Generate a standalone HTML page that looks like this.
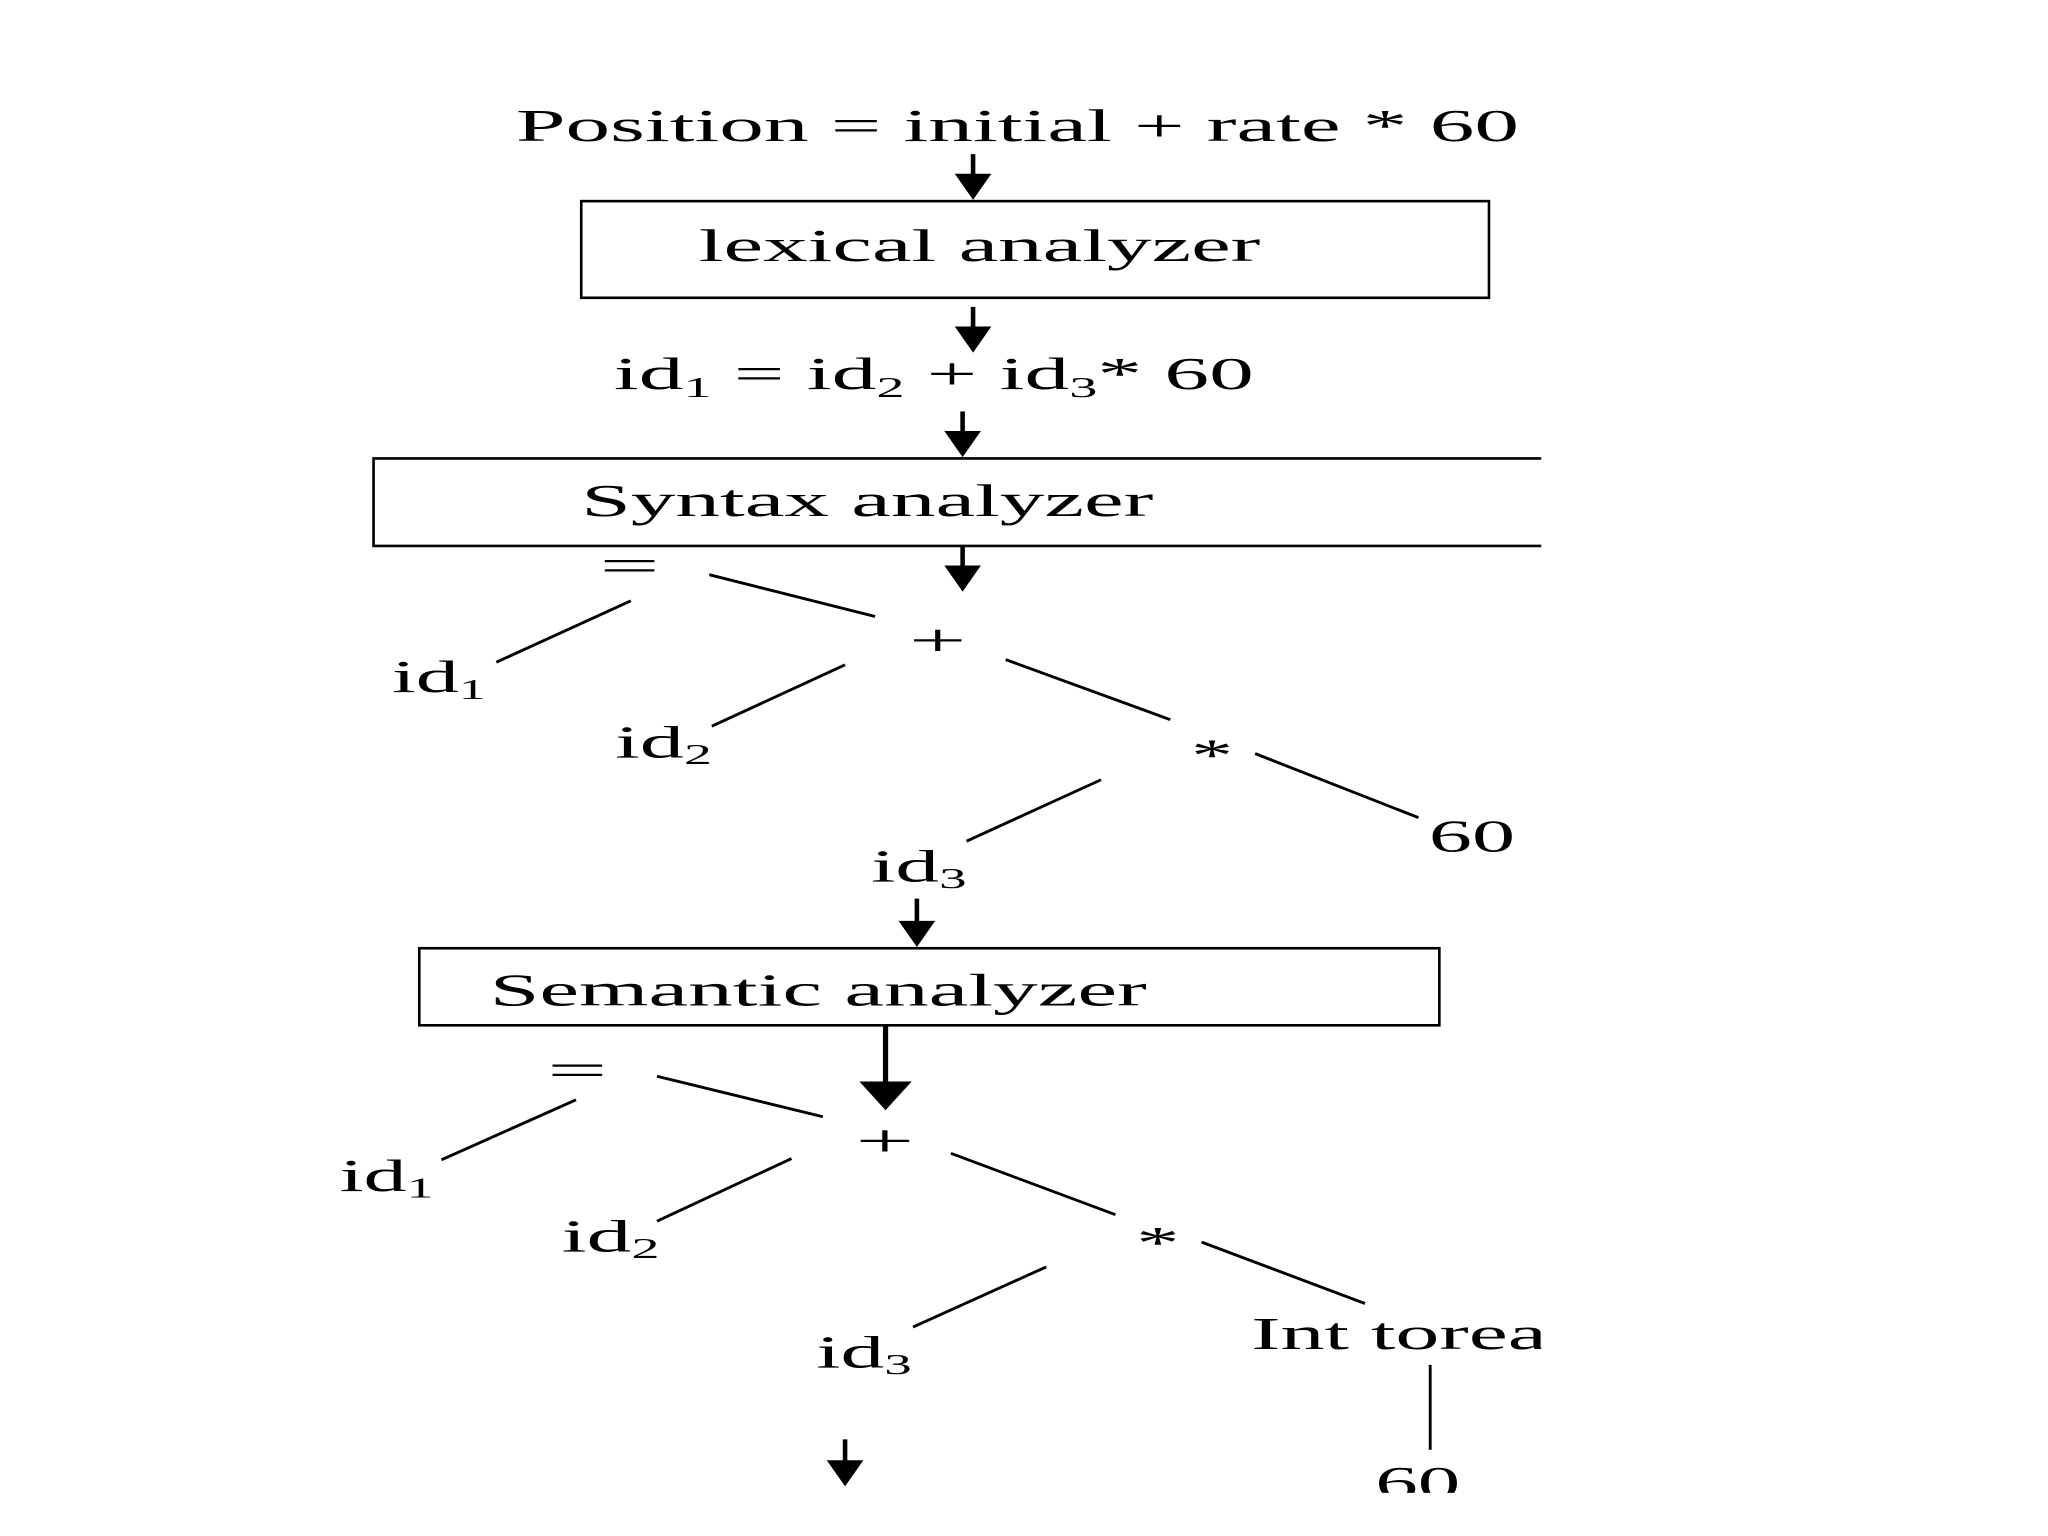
<!DOCTYPE html>
<html><head><meta charset="utf-8"><style>
html,body{margin:0;padding:0;background:#fff;}
svg{display:block;}
text{font-family:"Liberation Serif",serif;fill:#000;}
</style></head><body>
<svg width="2048" height="1536" viewBox="0 0 1568 1176" preserveAspectRatio="none" xmlns="http://www.w3.org/2000/svg">
<defs>
<g id="ah"><polygon points="-14,0 14,0 0,20" fill="#000"/></g>
</defs>
<text x="395" y="108" font-size="35" textLength="768" lengthAdjust="spacingAndGlyphs">Position = initial + rate * 60</text>
<g stroke="#000" stroke-width="3.5" fill="none">
<line x1="745" y1="118" x2="745" y2="140"/>
<line x1="745" y1="235" x2="745" y2="255"/>
<line x1="737" y1="315" x2="737" y2="335"/>
<line x1="737" y1="418" x2="737" y2="438"/>
<line x1="702" y1="688" x2="702" y2="710"/>
<line x1="678" y1="785" x2="678" y2="832" stroke-width="4"/>
<line x1="647" y1="1102" x2="647" y2="1122"/>
</g>
<use href="#ah" x="745" y="133"/>
<use href="#ah" x="745" y="250"/>
<use href="#ah" x="737" y="330"/>
<use href="#ah" x="737" y="433"/>
<use href="#ah" x="702" y="705"/>
<polygon points="658,828 698,828 678,850" fill="#000"/>
<use href="#ah" x="647" y="1118"/>

<rect x="445" y="154" width="695" height="74" fill="none" stroke="#000" stroke-width="2"/>
<text x="535" y="200" font-size="35" textLength="430" lengthAdjust="spacingAndGlyphs">lexical analyzer</text>

<text x="470" y="298" font-size="35" textLength="490" lengthAdjust="spacingAndGlyphs">id<tspan font-size="22" dy="6">1</tspan><tspan dy="-6"> = id</tspan><tspan font-size="22" dy="6">2</tspan><tspan dy="-6"> + id</tspan><tspan font-size="22" dy="6">3</tspan><tspan dy="-6">* 60</tspan></text>

<g stroke="#000" stroke-width="2" fill="none">
<polyline points="1180,351 286,351 286,418 1180,418"/>
<rect x="321" y="726" width="781" height="59"/>
</g>
<text x="445" y="395" font-size="35" textLength="438" lengthAdjust="spacingAndGlyphs">Syntax analyzer</text>
<text x="375" y="770" font-size="35" textLength="503" lengthAdjust="spacingAndGlyphs">Semantic analyzer</text>

<!-- tree 1 -->
<g stroke="#000" stroke-width="2.2">
<line x1="543" y1="440" x2="670" y2="472"/>
<line x1="483" y1="460" x2="380" y2="507"/>
<line x1="647" y1="509" x2="545" y2="556"/>
<line x1="770" y1="505" x2="896" y2="551"/>
<line x1="843" y1="597" x2="740" y2="644"/>
<line x1="961" y1="577" x2="1086" y2="626"/>
</g>
<g font-size="35">
<text x="459" y="445" textLength="46" lengthAdjust="spacingAndGlyphs">=</text>
<text x="696" y="502" textLength="44" lengthAdjust="spacingAndGlyphs">+</text>
<text x="912" y="590" textLength="32" lengthAdjust="spacingAndGlyphs">*</text>
<text x="300" y="530" textLength="72" lengthAdjust="spacingAndGlyphs">id<tspan font-size="22" dy="5">1</tspan></text>
<text x="471" y="580" textLength="74" lengthAdjust="spacingAndGlyphs">id<tspan font-size="22" dy="5">2</tspan></text>
<text x="667" y="675" textLength="73" lengthAdjust="spacingAndGlyphs">id<tspan font-size="22" dy="5">3</tspan></text>
<text x="1094" y="652" textLength="66" lengthAdjust="spacingAndGlyphs">60</text>
</g>

<!-- tree 2 -->
<g stroke="#000" stroke-width="2.2">
<line x1="503" y1="824" x2="630" y2="855"/>
<line x1="441" y1="842" x2="338" y2="888"/>
<line x1="606" y1="887" x2="503" y2="935"/>
<line x1="728" y1="883" x2="854" y2="930"/>
<line x1="801" y1="970" x2="699" y2="1016"/>
<line x1="920" y1="951" x2="1045" y2="998"/>
<line x1="1095" y1="1045" x2="1095" y2="1110"/>
</g>
<g font-size="35">
<text x="419" y="831" textLength="46" lengthAdjust="spacingAndGlyphs">=</text>
<text x="655" y="885" textLength="45" lengthAdjust="spacingAndGlyphs">+</text>
<text x="870" y="963" textLength="33" lengthAdjust="spacingAndGlyphs">*</text>
<text x="260" y="912" textLength="72" lengthAdjust="spacingAndGlyphs">id<tspan font-size="22" dy="5">1</tspan></text>
<text x="430" y="958" textLength="75" lengthAdjust="spacingAndGlyphs">id<tspan font-size="22" dy="5">2</tspan></text>
<text x="625" y="1047" textLength="73" lengthAdjust="spacingAndGlyphs">id<tspan font-size="22" dy="5">3</tspan></text>
</g>
<svg x="0" y="0" width="1180" height="1176" viewBox="0 0 1180 1176" overflow="hidden">
<text x="958" y="1033" font-size="35" textLength="245" lengthAdjust="spacingAndGlyphs">Int toreal</text>
</svg>
<svg x="0" y="0" width="1568" height="1143" viewBox="0 0 1568 1143" overflow="hidden">
<text x="1053" y="1147" font-size="35" textLength="65" lengthAdjust="spacingAndGlyphs">60</text>
</svg>
</svg>
</body></html>
